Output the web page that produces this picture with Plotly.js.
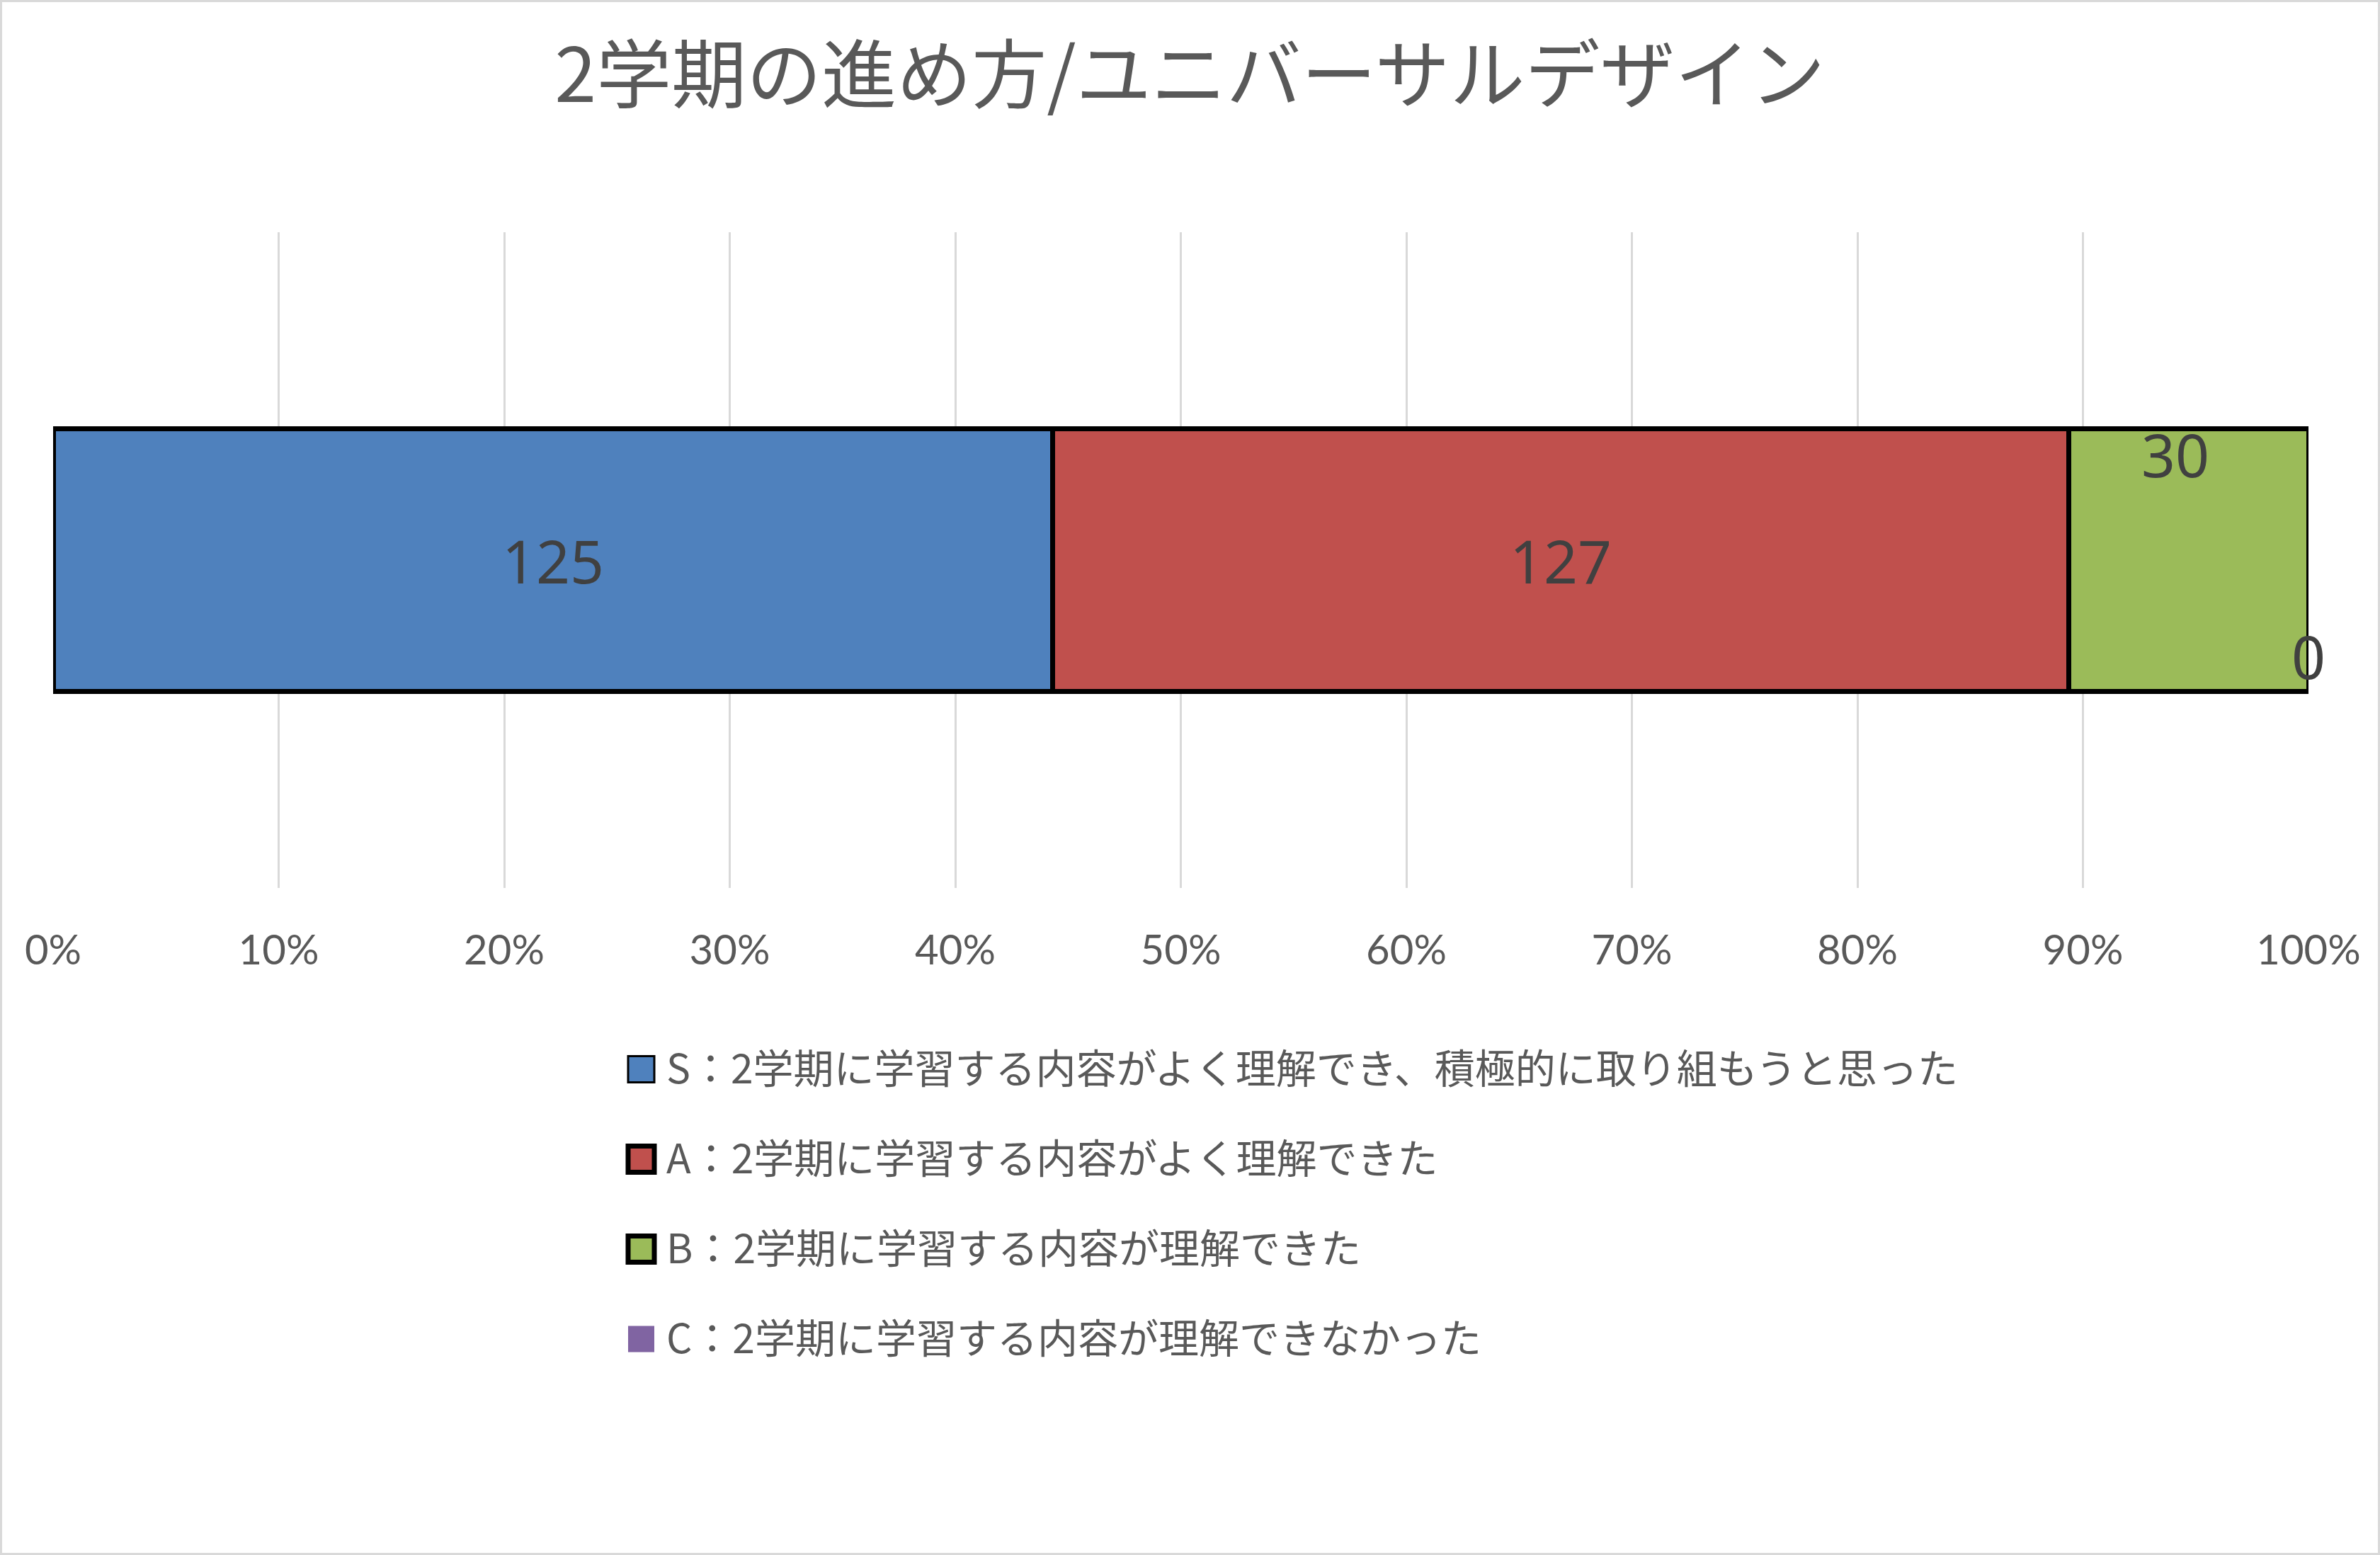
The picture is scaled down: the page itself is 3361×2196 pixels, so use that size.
<!DOCTYPE html>
<html>
<head>
<meta charset="utf-8">
<script src="https://cdn.plot.ly/plotly-3.0.1.min.js"></script>
<style>
  html, body { margin: 0; padding: 0; background: #ffffff; }
  #wrap { position: relative; width: 3361px; height: 2196px; }
  #chart { position: absolute; left: 0; top: 0; width: 3361px; height: 2196px; }
  #frame { position: absolute; left: 0; top: 0; width: 3361px; height: 2196px;
           box-sizing: border-box; border: 3px solid #d9d9d9; pointer-events: none; }
</style>
</head>
<body>
<div id="wrap"><div id="chart"></div><div id="frame"></div></div>
<script>
// ---- data ----
const chartTitle = '2学期の進め方/ユニバーサルデザイン';
const categories = ['2学期の進め方/ユニバーサルデザイン'];
const seriesNames = [
  'S：2学期に学習する内容がよく理解でき、積極的に取り組もうと思った',
  'A：2学期に学習する内容がよく理解できた',
  'B：2学期に学習する内容が理解できた',
  'C：2学期に学習する内容が理解できなかった'
];
const seriesValues = [125, 127, 30, 0];

// ---- styles ----
const seriesColors = ['#4f81bd', '#c0504d', '#9bbb59', '#8064a2'];
const outlineWidths = [7, 7, 7, 0];
const legendOutline = [3, 7, 7, 0];
// label offsets in pixels (Excel moved the small labels off-centre)
const labelAnchor = ['mid', 'mid', 'mid', 'end'];
const labelShift = [[0, 0], [0, 0], [-19, 150], [0, -135]];

const W = 3361, H = 2196;
const M = { l: 75, r: 101, t: 328, b: 942 };
const plotW = W - M.l - M.r, plotH = H - M.t - M.b;
const px2x = px => (px - M.l) / plotW;
const py2y = py => (H - M.b - py) / plotH;

const traces = seriesNames.map((name, i) => ({
  type: 'bar',
  orientation: 'h',
  name: name,
  y: categories,
  x: [seriesValues[i]],
  marker: {
    color: seriesColors[i],
    line: { color: '#000000', width: outlineWidths[i] }
  },
  showlegend: false,
  hoverinfo: 'name+x'
}));

const total = seriesValues.reduce((a, b) => a + b, 0);
const annotations = [];
let cum = 0;
seriesValues.forEach((v, i) => {
  const start = cum / total;
  cum += v;
  const end = cum / total;
  const xPos = labelAnchor[i] === 'end' ? end : (start + end) / 2;
  annotations.push({
    x: xPos, y: categories[0], xref: 'x', yref: 'y',
    text: String(v), showarrow: false,
    xanchor: 'center', yanchor: 'middle',
    xshift: labelShift[i][0], yshift: labelShift[i][1],
    font: { family: 'Noto Sans, DejaVu Sans, sans-serif', size: 84, color: '#404040' }
  });
});

// custom legend (large squares like the original)
const legendX = 887, legendBox = 37, legendTextX = 939;
const legendRowY = [1510, 1637, 1764, 1891];
const legendTextDy = -5;
const shapes = [];
seriesNames.forEach((name, i) => {
  const cy = legendRowY[i];
  shapes.push({
    type: 'rect', xref: 'paper', yref: 'paper',
    x0: px2x(legendX), x1: px2x(legendX + legendBox),
    y0: py2y(cy + legendBox / 2), y1: py2y(cy - legendBox / 2),
    fillcolor: seriesColors[i],
    line: { color: '#000000', width: legendOutline[i] }
  });
  annotations.push({
    x: px2x(legendTextX), y: py2y(cy + legendTextDy), xref: 'paper', yref: 'paper',
    text: name, showarrow: false, xanchor: 'left', yanchor: 'middle',
    font: { family: 'Noto Sans CJK JP, sans-serif', size: 57, color: '#595959' }
  });
});

const layout = {
  width: W, height: H,
  margin: M,
  paper_bgcolor: '#ffffff',
  plot_bgcolor: '#ffffff',
  barmode: 'stack',
  barnorm: 'fraction',
  bargap: 0.6,
  showlegend: false,
  title: {
    text: chartTitle,
    x: 0.5, xanchor: 'center',
    y: 1 - 107 / H, yanchor: 'middle',
    font: { family: 'Noto Sans CJK JP, sans-serif', size: 106, color: '#595959' }
  },
  xaxis: {
    range: [0, 1],
    dtick: 0.1,
    tick0: 0,
    tickformat: '.0%',
    showgrid: true,
    gridcolor: '#d9d9d9',
    gridwidth: 3,
    zeroline: false,
    showline: false,
    ticks: '',
    ticklabelstandoff: 49,
    tickfont: { family: 'Lato, Noto Sans, sans-serif', size: 58, color: '#595959' },
    fixedrange: true
  },
  yaxis: {
    showticklabels: false,
    showgrid: false,
    zeroline: false,
    showline: false,
    ticks: '',
    fixedrange: true
  },
  annotations: annotations,
  shapes: shapes
};

Plotly.newPlot('chart', traces, layout, { displayModeBar: false, staticPlot: true });
</script>
</body>
</html>
